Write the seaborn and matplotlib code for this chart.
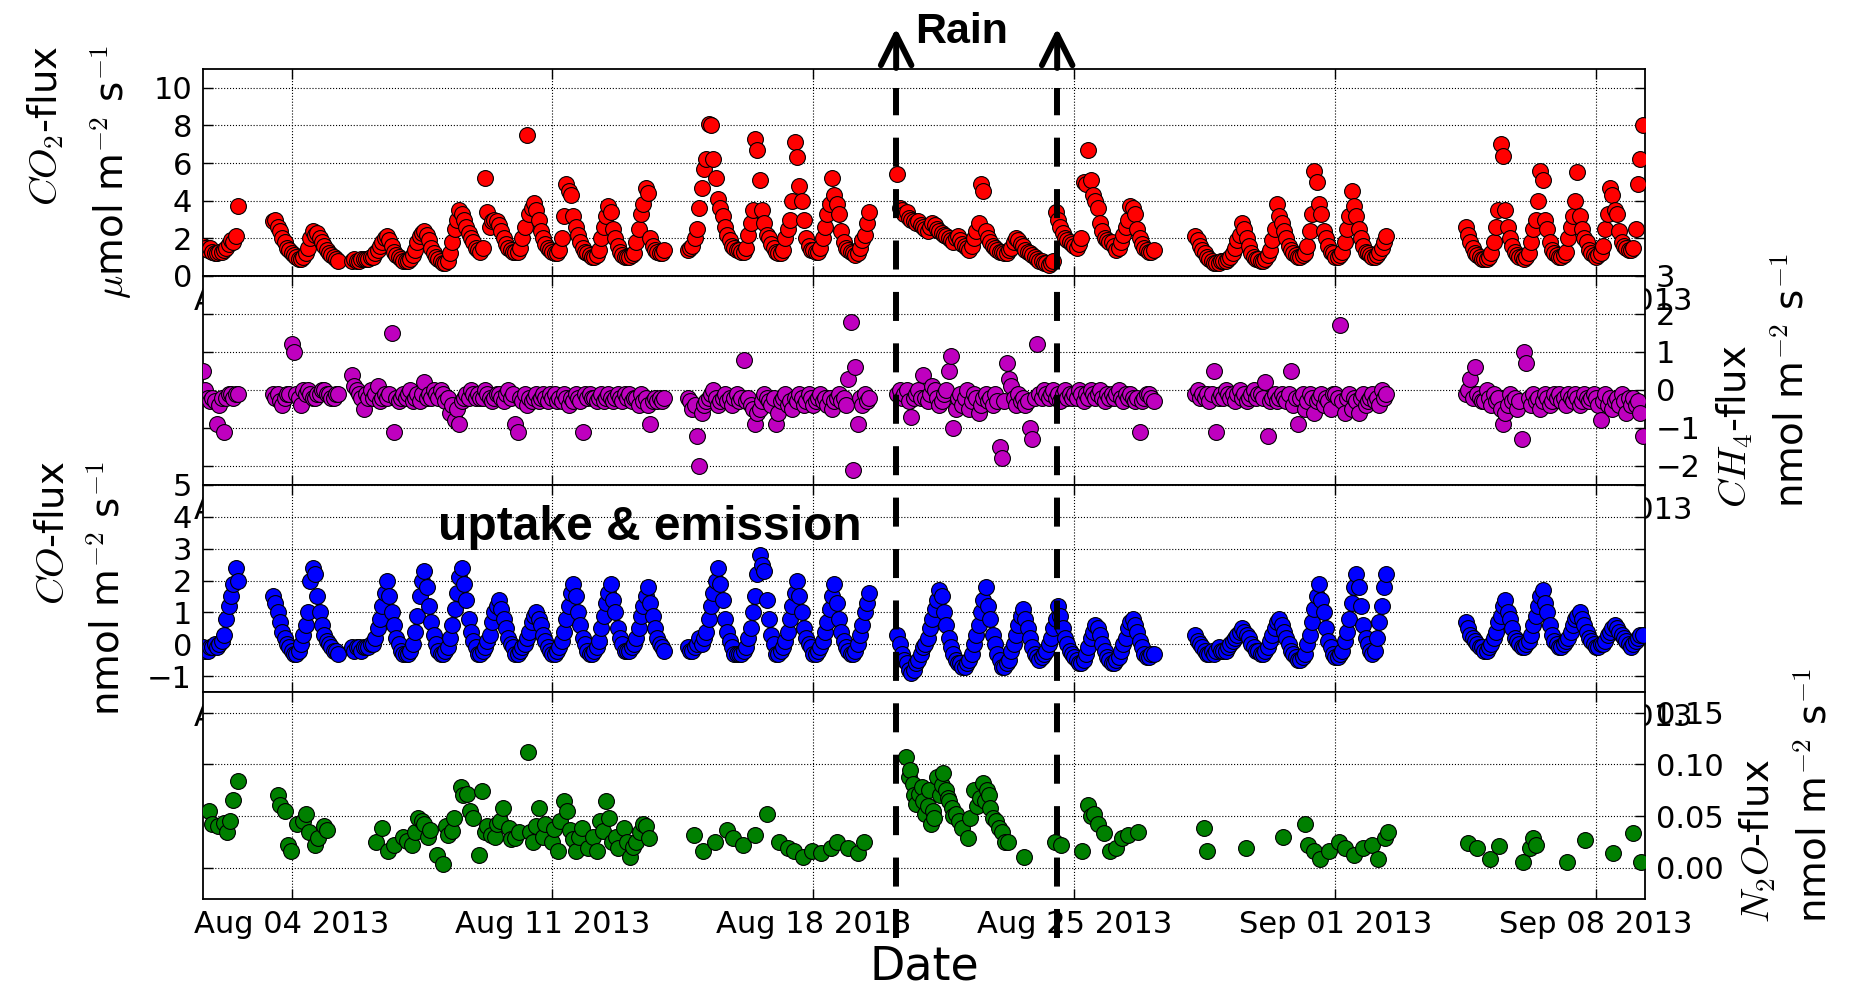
import numpy as np
import pandas as pd
import matplotlib
matplotlib.use("Agg")
import matplotlib.pyplot as plt
import matplotlib.dates as mdates
import matplotlib.ticker as mticker
from matplotlib.lines import Line2D
from matplotlib.patches import FancyArrowPatch
from matplotlib.transforms import blended_transform_factory
import seaborn as sns

# time axis: days since 2013-08-01 00:00, 1.5-hourly values inside each measurement block
t0 = pd.Timestamp("2013-08-01")
seg_start = [0.625, 2.5, 4.625, 13.625, 19.25, 27.25, 34.5]
step = 0.0625
rain_days = [19.22, 23.54]

# CO2 flux (umol m-2 s-1), one list per block (rows = days)
co2_segs = [
    [1.6, 1.5, 1.4, 1.5, 1.3, 1.2, 1.2, 1.3, 1.3, 1.4, 1.5, 1.7, 1.9, 1.8, 2.1, 3.7],
    [2.9, 3.0, 2.6, 2.4, 2.0, 1.8, 1.5, 1.4,
     1.2, 1.1, 1.0, 0.9, 0.9, 1.0, 1.2, 1.5, 2.0, 2.4, 2.2, 2.3, 2.0, 1.8, 1.6, 1.4,
     1.2, 1.1, 1.0, 0.9, 0.8],
    [0.8, 0.9, 0.8, 0.8, 0.9, 0.9,
     0.9, 0.9, 1.0, 1.0, 1.2, 1.4, 1.6, 1.8, 2.0, 2.1, 1.9, 1.6, 1.3, 1.1, 1.0, 0.9,
     0.8, 0.8, 0.8, 0.9, 1.1, 1.4, 1.8, 2.1, 2.3, 2.4, 2.2, 1.9, 1.5, 1.2, 1.0, 0.9,
     0.8, 0.7, 0.7, 0.8, 1.2, 1.8, 2.5, 3.0, 3.5, 3.3, 3.0, 2.6, 2.3, 2.0, 1.8, 1.5,
     1.4, 1.3, 1.5, 5.2, 3.4, 2.6, 2.9, 3.0, 2.9, 2.7, 2.4, 2.0, 1.7, 1.5, 1.4, 1.3,
     1.3, 1.3, 1.5, 2.0, 2.6, 7.5, 3.3, 3.6, 3.9, 3.5, 3.0, 2.4, 2.0, 1.7, 1.5, 1.4,
     1.3, 1.2, 1.2, 1.4, 2.0, 3.2, 4.9, 4.5, 4.3, 3.2, 2.6, 2.2, 1.8, 1.5, 1.3, 1.2,
     1.1, 1.0, 1.0, 1.1, 1.4, 2.0, 2.6, 3.2, 3.7, 3.4, 2.5, 2.0, 1.6, 1.3, 1.1, 1.0,
     1.0, 1.0, 1.1, 1.2, 1.8, 2.5, 3.3, 3.8, 4.7, 4.4, 2.0, 1.6, 1.4, 1.3, 1.2, 1.2,
     1.4],
    [1.4, 1.5, 1.6, 2.0, 2.5, 3.6,
     4.7, 5.7, 6.2, 8.1, 8.0, 6.2, 5.2, 4.1, 3.6, 3.2, 2.6, 2.2, 1.9, 1.6, 1.5, 1.4,
     1.4, 1.3, 1.3, 1.5, 2.2, 2.8, 3.5, 7.3, 6.7, 5.1, 3.5, 2.8, 2.2, 2.0, 1.7, 1.5,
     1.3, 1.2, 1.2, 1.4, 2.0, 2.5, 3.0, 4.0, 7.1, 6.3, 4.8, 4.0, 3.0, 2.0, 1.6, 1.4,
     1.4, 1.3, 1.3, 1.5, 2.0, 2.6, 3.3, 3.8, 5.2, 4.3, 3.8, 3.3, 2.4, 1.8, 1.5, 1.4,
     1.3, 1.2, 1.1, 1.2, 1.5, 1.9, 2.2, 2.8, 3.4],
    [5.4, 3.6, 3.5, 3.3, 3.4, 3.1, 3.0, 2.9, 2.8, 2.9, 2.7, 2.6,
     2.5, 2.4, 2.6, 2.8, 2.7, 2.5, 2.4, 2.3, 2.2, 2.1, 2.0, 1.9, 1.8, 2.0, 2.1, 1.9,
     1.7, 1.6, 1.5, 1.4, 1.6, 2.0, 2.4, 2.8, 4.9, 4.5, 2.4, 2.0, 1.8, 1.6, 1.5, 1.4,
     1.3, 1.3, 1.2, 1.2, 1.4, 1.5, 1.8, 2.0, 1.9, 1.7, 1.6, 1.4, 1.3, 1.2, 1.1, 1.0,
     0.9, 0.8, 0.8, 0.7, 0.7, 0.6, 0.7, 0.8, 3.4, 3.0, 2.6, 2.3, 2.0, 1.9, 1.8, 1.7,
     1.6, 1.5, 1.7, 2.0, 5.0, 4.9, 6.7, 5.1, 4.3, 4.0, 3.6, 2.8, 2.4, 2.0, 1.9, 1.8,
     1.8, 1.6, 1.4, 1.5, 1.8, 2.2, 2.6, 3.0, 3.7, 3.6, 3.3, 2.5, 2.0, 1.7, 1.5, 1.4,
     1.3, 1.3, 1.4],
    [2.1, 1.9, 1.6, 1.4, 1.2, 1.0, 0.9, 0.8, 0.7, 0.7, 0.7, 0.8,
     0.8, 0.8, 0.9, 1.0, 1.2, 1.5, 1.9, 2.2, 2.8, 2.5, 2.0, 1.6, 1.2, 1.0, 0.9, 0.9,
     0.8, 0.8, 0.9, 1.1, 1.4, 1.9, 2.5, 3.8, 3.2, 2.8, 2.4, 2.0, 1.6, 1.4, 1.2, 1.1,
     1.0, 1.0, 1.1, 1.2, 1.6, 2.4, 3.3, 5.6, 5.0, 3.8, 3.3, 2.4, 2.0, 1.6, 1.3, 1.2,
     1.0, 1.0, 1.1, 1.3, 1.8, 2.5, 3.2, 4.5, 3.7, 3.2, 2.5, 2.0, 1.6, 1.3, 1.2, 1.1,
     1.0, 1.0, 1.1, 1.3, 1.5, 1.8, 2.1],
    [2.6, 2.2, 1.8, 1.5, 1.2, 1.1, 1.0, 0.9,
     0.9, 0.9, 1.0, 1.2, 1.8, 2.6, 3.5, 7.0, 6.4, 3.5, 2.6, 2.0, 1.6, 1.3, 1.1, 1.0,
     1.0, 0.9, 1.0, 1.2, 1.8, 2.5, 3.0, 4.0, 5.6, 5.1, 3.0, 2.5, 1.8, 1.4, 1.2, 1.1,
     1.0, 1.0, 1.1, 1.3, 2.0, 2.6, 3.2, 4.0, 5.5, 3.2, 2.5, 2.0, 1.8, 1.4, 1.2, 1.1,
     1.0, 1.1, 1.2, 1.6, 2.5, 3.3, 4.7, 4.3, 3.5, 3.3, 2.4, 1.8, 1.6, 1.5, 1.4, 1.4,
     1.5, 2.5, 4.9, 6.2, 8.0],
]

# CH4 flux (nmol m-2 s-1)
ch4_segs = [
    [0.5, 0.0, -0.2, -0.3, -0.2, -0.3, -0.9, -0.4, -0.2, -1.1, -0.2, -0.1, -0.1, -0.2, -0.1, -0.1],
    [-0.1, -0.2, -0.1, -0.3, -0.4, -0.2, -0.1, -0.1,
     1.2, 1.0, -0.1, -0.2, -0.4, 0.0, -0.1, 0.0, -0.1, -0.2, -0.2, -0.1, -0.1, 0.0, 0.0, -0.1,
     -0.1, -0.2, -0.2, -0.1, -0.1],
    [0.4, 0.1, 0.0, -0.1, -0.2, -0.5,
     -0.1, -0.2, 0.0, -0.2, -0.1, 0.1, -0.3, -0.2, -0.1, -0.2, -0.1, 1.5, -1.1, -0.2, -0.3, -0.2,
     -0.1, -0.2, -0.1, 0.0, -0.3, -0.2, -0.1, -0.3, -0.1, 0.2, -0.2, -0.1, -0.2, 0.0, -0.1, -0.2,
     0.0, -0.1, -0.3, -0.2, -0.6, -0.4, -0.8, -0.5, -0.9, -0.3, -0.2, -0.1, -0.2, 0.0, -0.1, -0.2,
     -0.1, -0.2, -0.2, 0.0, -0.1, -0.2, -0.3, -0.2, -0.1, -0.1, -0.2, -0.3, -0.1, 0.0, -0.2, -0.1,
     -0.9, -1.1, -0.2, -0.3, -0.1, -0.4, -0.2, -0.3, -0.2, -0.1, -0.3, -0.2, -0.1, -0.2, -0.3, -0.1,
     -0.2, -0.1, -0.3, -0.2, -0.3, -0.1, -0.2, -0.4, -0.2, -0.3, -0.1, -0.2, -0.3, -1.1, -0.1, -0.2,
     -0.1, -0.2, -0.2, -0.3, -0.2, -0.1, -0.3, -0.2, -0.1, -0.2, -0.3, -0.2, -0.1, -0.2, -0.3, -0.1,
     -0.2, -0.1, -0.3, -0.2, -0.2, -0.4, -0.1, -0.3, -0.2, -0.4, -0.9, -0.3, -0.2, -0.3, -0.2, -0.3,
     -0.2],
    [-0.2, -0.3, -0.5, -0.4, -1.2, -2.0,
     -0.6, -0.4, -0.3, -0.2, -0.1, 0.0, -0.2, -0.4, -0.3, -0.2, -0.1, -0.3, -0.2, -0.4, -0.2, -0.1,
     -0.3, -0.2, 0.8, -0.3, -0.2, -0.4, -0.5, -0.9, -0.6, -0.5, -0.3, -0.1, -0.2, -0.3, -0.4, -0.2,
     -0.9, -0.6, -0.3, -0.2, -0.1, -0.4, -0.3, -0.5, -0.2, -0.3, -0.1, -0.2, -0.4, -0.3, -0.1, -0.2,
     -0.4, -0.3, -0.2, -0.1, -0.3, -0.2, -0.4, -0.2, -0.5, -0.3, -0.2, -0.1, -0.3, -0.2, -0.4, 0.3,
     1.8, -2.1, 0.6, -0.9, -0.2, -0.4, -0.1, -0.3, -0.2],
    [-0.1, 0.0, -0.2, -0.1, 0.0, -0.3, -0.7, -0.2, -0.1, 0.0, -0.2, 0.4,
     -0.2, -0.3, -0.1, 0.1, 0.0, -0.2, -0.4, -0.3, -0.1, 0.0, 0.5, 0.9, -1.0, -0.5, -0.2, -0.1,
     -0.4, -0.2, 0.0, -0.5, -0.3, -0.1, -0.2, -0.6, -0.4, -0.2, -0.1, -0.3, -0.2, -0.4, -0.1, -0.3,
     -1.5, -1.8, -0.3, 0.7, 0.3, 0.1, -0.2, -0.4, -0.1, -0.3, -0.2, -0.4, -0.3, -1.0, -1.3, -0.2,
     1.2, -0.1, -0.2, 0.0, -0.1, -0.2, -0.1, 0.0, -0.2, -0.1, -0.3, -0.1, 0.0, -0.2, -0.1, -0.2,
     -0.1, -0.2, 0.0, -0.1, -0.3, -0.1, -0.2, 0.0, -0.1, -0.2, -0.1, 0.0, -0.2, -0.3, -0.1, -0.2,
     -0.1, -0.2, -0.1, 0.0, -0.2, -0.3, -0.1, -0.2, -0.1, -0.2, -0.3, -0.2, -1.1, -0.3, -0.2, -0.1,
     -0.1, -0.2, -0.3],
    [-0.1, 0.0, -0.2, -0.1, -0.2, -0.1, -0.3, -0.1, 0.5, -1.1, -0.2, -0.1,
     -0.2, 0.0, -0.1, -0.2, -0.1, -0.3, -0.1, 0.0, -0.2, -0.1, -0.3, -0.2, -0.1, 0.0, -0.2, -0.1,
     -0.1, -0.2, 0.2, -1.2, -0.3, -0.2, -0.1, -0.3, -0.2, -0.1, -0.2, -0.3, -0.1, 0.5, -0.4, -0.2,
     -0.9, -0.2, -0.1, -0.5, -0.3, -0.1, -0.2, -0.6, -0.3, -0.2, -0.1, -0.4, -0.2, -0.3, -0.5, -0.1,
     -0.1, -0.2, 1.7, -0.3, -0.6, -0.2, -0.1, -0.5, -0.2, -0.3, -0.6, -0.2, -0.1, -0.4, -0.3, -0.2,
     -0.1, -0.3, -0.2, -0.4, 0.0, -0.2, -0.1],
    [-0.1, 0.0, 0.3, -0.2, 0.6, -0.1, -0.2, -0.3,
     -0.3, 0.0, -0.2, -0.4, -0.1, -0.3, -0.2, -0.5, -0.9, -0.6, -0.4, -0.1, -0.3, -0.2, -0.5, -0.3,
     -1.3, 1.0, 0.7, -0.2, -0.4, -0.1, -0.3, -0.2, -0.5, -0.3, -0.1, -0.2, -0.4, -0.3, -0.1, -0.2,
     -0.1, -0.3, -0.2, -0.4, -0.1, -0.2, -0.3, -0.1, -0.2, -0.4, -0.3, -0.1, -0.2, -0.3, -0.2, -0.1,
     -0.2, -0.4, -0.8, -0.3, -0.1, -0.4, -0.2, -0.5, -0.3, -0.2, -0.4, -0.1, -0.3, -0.6, -0.2, -0.4,
     -0.2, -0.4, -0.3, -0.6, -1.2],
]

# CO flux (nmol m-2 s-1)
co_segs = [
    [-0.1, -0.2, -0.2, -0.1, -0.1, 0.0, -0.1, 0.0, 0.1, 0.3, 0.8, 1.2, 1.5, 1.9, 2.4, 2.0],
    [1.5, 1.3, 1.0, 0.7, 0.4, 0.2, 0.0, -0.1,
     -0.2, -0.3, -0.3, -0.2, 0.0, 0.3, 0.6, 1.0, 2.0, 2.4, 2.2, 1.5, 1.0, 0.6, 0.3, 0.1,
     0.0, -0.1, -0.2, -0.2, -0.3],
    [-0.1, -0.2, -0.1, -0.1, -0.2, -0.1,
     -0.1, -0.1, 0.0, 0.0, 0.2, 0.5, 0.8, 1.2, 1.6, 2.0, 1.5, 1.0, 0.6, 0.2, 0.0, -0.2,
     -0.3, -0.3, -0.3, -0.2, 0.0, 0.4, 0.9, 1.5, 2.0, 2.3, 1.8, 1.2, 0.7, 0.3, 0.0, -0.2,
     -0.3, -0.3, -0.2, -0.1, 0.2, 0.6, 1.1, 1.6, 2.1, 2.4, 1.9, 1.4, 0.8, 0.4, 0.1, -0.1,
     -0.3, -0.3, -0.2, -0.1, 0.1, 0.3, 0.7, 1.0, 1.2, 1.4, 1.1, 0.8, 0.5, 0.2, 0.0, -0.1,
     -0.3, -0.3, -0.2, -0.1, 0.0, 0.2, 0.4, 0.7, 0.9, 1.0, 0.8, 0.6, 0.3, 0.1, -0.1, -0.2,
     -0.3, -0.3, -0.2, -0.1, 0.1, 0.4, 0.8, 1.2, 1.6, 1.9, 1.5, 1.0, 0.6, 0.2, 0.0, -0.2,
     -0.3, -0.3, -0.2, -0.1, 0.1, 0.5, 0.9, 1.3, 1.6, 1.9, 1.4, 1.0, 0.5, 0.2, 0.0, -0.2,
     -0.2, -0.2, -0.1, 0.0, 0.2, 0.5, 0.9, 1.2, 1.5, 1.8, 1.3, 0.9, 0.5, 0.2, 0.0, -0.1,
     -0.2],
    [-0.1, -0.2, -0.2, -0.1, 0.0, 0.2,
     0.0, 0.2, 0.4, 0.8, 1.2, 1.6, 2.0, 2.4, 1.9, 1.4, 0.8, 0.4, 0.1, -0.1, -0.3, -0.3,
     -0.3, -0.3, -0.2, -0.1, 0.2, 0.5, 1.0, 1.5, 2.2, 2.8, 2.5, 2.3, 1.4, 0.8, 0.3, 0.0,
     -0.3, -0.3, -0.2, -0.1, 0.1, 0.4, 0.8, 1.2, 1.6, 2.0, 1.5, 1.0, 0.5, 0.2, 0.0, -0.1,
     -0.3, -0.3, -0.2, -0.1, 0.1, 0.4, 0.7, 1.1, 1.5, 1.9, 1.3, 0.8, 0.4, 0.1, -0.1, -0.2,
     -0.3, -0.3, -0.2, 0.0, 0.3, 0.6, 1.0, 1.3, 1.6],
    [0.3, 0.0, -0.3, -0.5, -0.6, -0.8, -0.9, -0.8, -0.6, -0.5, -0.3, -0.1,
     0.0, 0.2, 0.5, 0.8, 1.1, 1.4, 1.7, 1.5, 1.0, 0.6, 0.2, -0.1, -0.3, -0.5, -0.6, -0.6,
     -0.7, -0.7, -0.6, -0.5, -0.3, 0.0, 0.3, 0.6, 1.0, 1.4, 1.8, 1.2, 0.8, 0.3, 0.0, -0.3,
     -0.5, -0.7, -0.7, -0.6, -0.5, -0.2, 0.0, 0.3, 0.6, 0.9, 1.1, 0.8, 0.5, 0.2, -0.1, -0.3,
     -0.4, -0.5, -0.4, -0.3, -0.2, 0.0, 0.2, 0.5, 0.8, 1.2, 0.9, 0.5, 0.2, 0.0, -0.2, -0.3,
     -0.4, -0.5, -0.6, -0.6, -0.5, -0.3, -0.1, 0.2, 0.4, 0.6, 0.5, 0.3, 0.0, -0.2, -0.4, -0.5,
     -0.6, -0.6, -0.5, -0.4, -0.2, 0.0, 0.2, 0.5, 0.7, 0.8, 0.6, 0.4, 0.1, -0.1, -0.3, -0.4,
     -0.4, -0.3, -0.3],
    [0.3, 0.1, 0.0, -0.1, -0.2, -0.3, -0.3, -0.2, -0.3, -0.2, -0.1, -0.2,
     -0.2, -0.2, -0.1, 0.0, 0.1, 0.2, 0.3, 0.4, 0.5, 0.4, 0.3, 0.2, 0.0, -0.1, -0.2, -0.2,
     -0.3, -0.3, -0.2, -0.1, 0.1, 0.3, 0.5, 0.7, 0.8, 0.6, 0.4, 0.2, 0.0, -0.2, -0.3, -0.4,
     -0.5, -0.5, -0.4, -0.3, 0.0, 0.3, 0.7, 1.1, 1.5, 1.9, 1.4, 1.0, 0.5, 0.1, -0.1, -0.3,
     -0.4, -0.4, -0.3, -0.2, 0.1, 0.4, 0.8, 1.3, 1.8, 2.2, 1.8, 1.2, 0.6, 0.2, 0.0, -0.2,
     -0.3, -0.2, 0.2, 0.7, 1.2, 1.8, 2.2],
    [0.7, 0.5, 0.3, 0.2, 0.1, 0.0, -0.1, -0.1,
     -0.2, -0.2, -0.1, 0.0, 0.2, 0.4, 0.7, 0.9, 1.2, 1.4, 1.0, 0.8, 0.5, 0.2, 0.1, 0.0,
     -0.1, -0.1, 0.0, 0.1, 0.3, 0.6, 0.9, 1.2, 1.5, 1.7, 1.3, 1.0, 0.6, 0.3, 0.1, 0.0,
     -0.1, -0.1, 0.0, 0.1, 0.2, 0.4, 0.6, 0.8, 0.9, 1.0, 0.8, 0.6, 0.4, 0.2, 0.1, 0.0,
     -0.1, -0.1, 0.0, 0.0, 0.1, 0.3, 0.4, 0.5, 0.6, 0.5, 0.4, 0.3, 0.2, 0.1, 0.0, -0.1,
     0.0, 0.1, 0.2, 0.3, 0.3],
]

# N2O flux (nmol m-2 s-1), irregular sampling: day since Aug 1 and value
n2o_day = [0.79, 0.87, 1.03, 1.20, 1.28, 1.36, 1.44, 1.57,
           2.63, 2.69, 2.82, 2.90, 2.98, 3.15, 3.31, 3.39, 3.47, 3.63, 3.72, 3.88, 3.96,
           5.26, 5.42, 5.59, 5.75, 6.00, 6.10, 6.24, 6.30, 6.40, 6.50, 6.56, 6.65, 6.72,
           6.89, 7.05, 7.15, 7.21, 7.30, 7.37, 7.54, 7.60, 7.70, 7.80, 7.86, 8.02, 8.11,
           8.19, 8.25, 8.35, 8.45, 8.51, 8.60, 8.68, 8.84, 8.90, 9.00, 9.10, 9.33, 9.41,
           9.49, 9.55, 9.65, 9.75, 9.81, 9.98, 10.05, 10.14, 10.20, 10.30, 10.38, 10.46,
           10.55, 10.63, 10.70, 10.79, 10.95, 11.10, 11.20, 11.28, 11.35, 11.44, 11.52,
           11.60, 11.70, 11.77, 11.93, 12.00, 12.09, 12.15, 12.25, 12.35, 12.42, 12.50, 12.58,
           13.80, 14.04, 14.37, 14.69, 14.85, 15.10, 15.42, 15.75,
           16.07, 16.32, 16.48, 16.72, 16.97, 17.21, 17.46, 17.62, 17.94, 18.19, 18.35,
           19.49, 19.57, 19.60, 19.66, 19.70, 19.74, 19.82, 19.91, 19.95, 19.99, 20.07,
           20.10, 20.15, 20.20, 20.24, 20.32, 20.40, 20.45, 20.49, 20.57, 20.60, 20.65,
           20.73, 20.75, 20.82, 20.90, 20.98, 21.15, 21.20, 21.31, 21.40, 21.48, 21.56,
           21.60, 21.65, 21.70, 21.73, 21.81, 21.90, 21.98, 22.05, 22.14, 22.23, 22.64,
           23.47, 23.63, 24.21, 24.38, 24.46, 24.54, 24.63, 24.79, 24.96, 25.12, 25.29,
           25.45, 25.70, 27.48, 27.57, 28.60,
           29.60, 30.18, 30.26, 30.42, 30.59, 30.84, 31.09, 31.25, 31.50, 31.75, 32.00,
           32.16, 32.33, 32.41,
           34.56, 34.81, 35.14, 35.39, 36.05, 36.22, 36.30, 36.39,
           37.21, 37.71, 38.46, 39.00, 39.20]
n2o_val = [0.055, 0.042, 0.040, 0.043, 0.035, 0.045, 0.066, 0.084,
           0.070, 0.061, 0.055, 0.022, 0.016, 0.042, 0.045, 0.052, 0.035, 0.022, 0.029, 0.040, 0.037,
           0.025, 0.039, 0.016, 0.022, 0.030, 0.026, 0.022, 0.035, 0.048, 0.045, 0.042, 0.030, 0.037,
           0.012, 0.004, 0.040, 0.032, 0.036, 0.048, 0.078, 0.070, 0.071, 0.055, 0.048, 0.012, 0.074,
           0.035, 0.040, 0.032, 0.030, 0.042, 0.045, 0.058, 0.039, 0.028, 0.029, 0.035, 0.112, 0.035,
           0.025, 0.040, 0.058, 0.030, 0.042, 0.025, 0.038, 0.016, 0.045, 0.065, 0.055, 0.037,
           0.028, 0.016, 0.030, 0.039, 0.019, 0.030, 0.016, 0.045, 0.036, 0.065, 0.048,
           0.025, 0.030, 0.019, 0.039, 0.025, 0.011, 0.020, 0.025, 0.035, 0.042, 0.040, 0.029,
           0.032, 0.016, 0.025, 0.037, 0.029, 0.022, 0.032, 0.052,
           0.025, 0.019, 0.016, 0.011, 0.016, 0.014, 0.019, 0.025, 0.019, 0.014, 0.025,
           0.107, 0.088, 0.095, 0.081, 0.070, 0.062, 0.071, 0.078, 0.065, 0.052, 0.060,
           0.075, 0.042, 0.055, 0.048, 0.088, 0.070, 0.080, 0.092, 0.075, 0.068, 0.065,
           0.058, 0.050, 0.052, 0.045, 0.039, 0.029, 0.048, 0.075, 0.060, 0.068, 0.082,
           0.065, 0.075, 0.070, 0.058, 0.048, 0.045, 0.039, 0.035, 0.025, 0.025, 0.011,
           0.025, 0.022, 0.016, 0.061, 0.050, 0.052, 0.042, 0.034, 0.016, 0.019, 0.029,
           0.032, 0.035, 0.039, 0.016, 0.019,
           0.030, 0.042, 0.022, 0.016, 0.009, 0.016, 0.025, 0.019, 0.012, 0.019, 0.022,
           0.009, 0.029, 0.035,
           0.024, 0.019, 0.009, 0.021, 0.006, 0.019, 0.029, 0.022,
           0.006, 0.027, 0.014, 0.034, 0.006]


def to_frame(segs):
    days, vals = [], []
    for start, seg in zip(seg_start, segs):
        days += [start + step * i for i in range(len(seg))]
        vals += seg
    return pd.DataFrame({"time": t0 + pd.to_timedelta(days, unit="D"), "flux": vals})


frames = [to_frame(co2_segs), to_frame(ch4_segs), to_frame(co_segs),
          pd.DataFrame({"time": t0 + pd.to_timedelta(n2o_day, unit="D"), "flux": n2o_val})]

sns.set_style("whitegrid")
plt.rcParams.update({
    "font.family": ["DejaVu Sans"],
    "mathtext.fontset": "cm",
    "text.color": "black",
    "axes.labelcolor": "black",
    "xtick.color": "black",
    "ytick.color": "black",
    "axes.edgecolor": "black",
    "axes.linewidth": 1.3,
})

fig = plt.figure(figsize=(18.68, 9.92), dpi=100)
left, width = 0.1087, 0.7719
rects = [(left, 0.7218, width, 0.2087), (left, 0.5111, width, 0.2107),
         (left, 0.3024, width, 0.2087), (left, 0.0938, width, 0.2087)]
axes = [fig.add_axes(r) for r in rects]

colors = ["#ff0000", "#bf00bf", "#0000ff", "#008000"]
labels = ["$CO_2$-flux\n$\\mu$mol m$^{-2}$ s$^{-1}$",
          "$CH_4$-flux\nnmol m$^{-2}$ s$^{-1}$",
          "$CO$-flux\nnmol m$^{-2}$ s$^{-1}$",
          "$N_2O$-flux\nnmol m$^{-2}$ s$^{-1}$"]
ylims = [(0, 11), (-2.5, 3), (-1.5, 5), (-0.03, 0.17)]
yticks = [[0, 2, 4, 6, 8, 10], [-2, -1, 0, 1, 2, 3], [-1, 0, 1, 2, 3, 4, 5], [0, 0.05, 0.10, 0.15]]
right_side = [False, True, False, True]

xmin = t0 + pd.Timedelta(days=0.625)
xmax = t0 + pd.Timedelta(days=39.31)

for i, ax in enumerate(axes):
    sns.scatterplot(data=frames[i], x="time", y="flux", ax=ax, color=colors[i],
                    s=130, edgecolor="black", linewidth=0.8, legend=False, zorder=3)
    ax.set_facecolor("white")
    ax.set_xlim(xmin, xmax)
    ax.set_ylim(*ylims[i])
    ax.set_yticks(yticks[i])
    ax.xaxis.set_major_locator(mdates.WeekdayLocator(byweekday=mdates.SU))
    ax.xaxis.set_major_formatter(mdates.DateFormatter("%b %d %Y"))
    ax.grid(True, color="black", linestyle=":", linewidth=0.8)
    ax.tick_params(axis="both", which="major", direction="in", length=7, width=1,
                   labelsize=22, pad=8, top=True, bottom=True, left=True, right=True,
                   colors="black")
    ax.set_xlabel("")
    if right_side[i]:
        ax.tick_params(axis="y", labelleft=False, labelright=True)
        ax.yaxis.set_label_position("right")
        ax.set_ylabel(labels[i], fontsize=28, labelpad=10, multialignment="left", linespacing=1.6)
    else:
        ax.set_ylabel(labels[i], fontsize=28, labelpad=14, multialignment="right", linespacing=1.6)
    for sp in ax.spines.values():
        sp.set_color("black")
        sp.set_linewidth(1.3)

axes[3].yaxis.set_major_formatter(mticker.FormatStrFormatter("%.2f"))
axes[3].set_xlabel("Date", fontsize=33, labelpad=4)

# rain period markers spanning the whole figure
trans = blended_transform_factory(axes[0].transData, fig.transFigure)
for d in rain_days:
    xd = mdates.date2num(t0 + pd.Timedelta(days=d))
    fig.add_artist(Line2D([xd, xd], [0.0544, 0.9113], transform=trans, color="black",
                          lw=4.3, dashes=(4.86, 3.75)))
    fig.add_artist(FancyArrowPatch((xd, 0.9315), (xd, 0.9718), transform=trans,
                                   arrowstyle="->,head_length=2.2,head_width=1.1",
                                   mutation_scale=10, lw=4.3, color="black",
                                   shrinkA=0, shrinkB=0))

fig.text(0.4898, 0.9567, "Rain", fontsize=31, fontweight="bold", color="black",
         family=["Liberation Sans", "DejaVu Sans"], va="baseline", ha="left")
fig.text(0.2345, 0.4556, "uptake & emission", fontsize=34.5, fontweight="bold", color="black",
         family=["Liberation Sans", "DejaVu Sans"], va="baseline", ha="left")

fig.savefig("out.png", dpi=100)
